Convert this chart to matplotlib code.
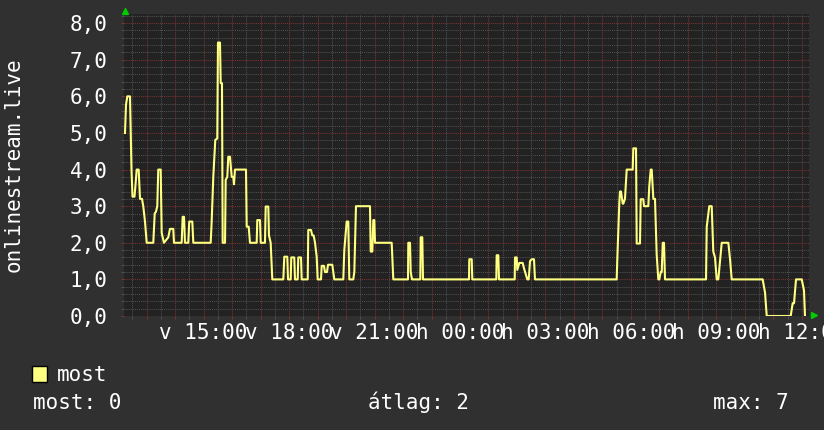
import matplotlib
matplotlib.use("Agg")
import matplotlib.pyplot as plt
from matplotlib.ticker import FixedLocator, MultipleLocator, FuncFormatter
from matplotlib.patches import Rectangle
from matplotlib.lines import Line2D

# ---- data: minutes since 12:00 on day 1, and value ----
minutes = [14.3, 16.4, 19.1, 24.8, 28.0, 30.1, 34.3, 36.4, 38.9, 43.1, 45.9, 50.1, 52.8, 56.4,
           60.0, 73.9, 76.9, 79.6, 82.3, 84.4, 89.5, 91.6, 96.4, 105.5, 109.1, 116.0, 117.5,
           133.7, 135.8, 138.6, 140.7, 147.6, 149.7, 156.1, 158.2, 194.8, 196.9, 200.3, 204.5,
           208.7, 210.2, 214.4, 215.9, 218.6, 220.1, 225.0, 226.4, 229.8, 231.9, 235.5, 239.1,
           242.4, 243.9, 246.0, 269.2, 270.7, 274.9, 277.6, 291.7, 293.0, 298.7, 300.2, 309.2,
           310.7, 316.2, 317.6, 321.2, 324.6, 347.8, 349.9, 356.2, 357.7, 363.4, 364.6, 370.9,
           372.4, 378.1, 379.4, 385.1, 386.5, 399.2, 400.4, 406.1, 408.9, 411.8, 414.6, 418.1,
           420.2, 427.2, 428.7, 433.5, 435.6, 439.8, 442.0, 451.0, 455.2, 474.2, 476.3, 481.3,
           484.7, 486.8, 495.2, 497.4, 500.9, 530.4, 531.9, 535.3, 537.4, 539.5, 541.0, 576.1,
           579.5, 610.5, 611.1, 614.7, 616.2, 618.9, 636.4, 637.2, 640.6, 642.1, 739.0, 739.6,
           744.7, 745.9, 796.5, 797.3, 800.7, 802.2, 835.3, 835.9, 839.5, 840.7, 845.0, 852.1,
           854.9, 861.8, 864.8, 867.5, 871.1, 875.9, 878.0, 1050.1, 1051.4, 1055.6, 1057.1,
           1059.2, 1062.8, 1064.1, 1067.6, 1071.2, 1083.9, 1085.1, 1090.8, 1092.3, 1099.2,
           1100.7, 1106.2, 1107.7, 1116.7, 1118.8, 1121.8, 1123.9, 1127.3, 1130.8, 1134.4,
           1137.8, 1139.9, 1142.9, 1145.0, 1147.1, 1149.8, 1151.9, 1238.3, 1239.8, 1245.2,
           1250.3, 1253.6, 1257.2, 1260.8, 1264.2, 1267.8, 1271.4, 1285.3, 1288.9, 1292.4,
           1357.7, 1362.6, 1366.2, 1416.7, 1420.9, 1423.7, 1427.9, 1439.9, 1444.7, 1446.8]
values = [5.0, 5.77, 6.0, 6.0, 4.0, 3.26, 3.26, 3.58, 4.0, 4.0, 3.2, 3.2, 3.0, 2.58,
          2.0, 2.0, 2.8, 2.85, 3.0, 4.0, 4.0, 2.27, 2.0, 2.15, 2.38, 2.38, 2.0,
          2.0, 2.71, 2.71, 2.0, 2.0, 2.58, 2.58, 2.0, 2.0, 2.58, 3.8, 4.81,
          4.85, 7.47, 7.47, 6.36, 6.36, 2.0, 2.0, 3.72, 3.8, 4.35, 4.35, 3.8,
          3.8, 3.6, 4.0, 4.0, 2.44, 2.44, 2.0, 2.0, 2.62, 2.62, 2.0, 2.0,
          2.99, 2.99, 2.2, 2.0, 1.0, 1.0, 1.62, 1.62, 1.0, 1.0, 1.6, 1.6,
          1.0, 1.0, 1.6, 1.6, 1.0, 1.0, 2.35, 2.35, 2.2, 2.2, 2.0, 1.62,
          1.0, 1.0, 1.37, 1.37, 1.2, 1.2, 1.4, 1.4, 1.0, 1.0, 1.8, 2.58,
          2.58, 1.0, 1.0, 1.2, 3.0, 3.0, 1.76, 1.76, 2.62, 2.62, 2.0, 2.0,
          1.0, 1.0, 2.0, 2.0, 1.2, 1.0, 1.0, 2.15, 2.15, 1.0, 1.0, 1.55,
          1.55, 1.0, 1.0, 1.66, 1.66, 1.0, 1.0, 1.6, 1.6, 1.26, 1.45, 1.45,
          1.3, 1.0, 1.0, 1.5, 1.55, 1.55, 1.0, 1.0, 1.55, 3.08, 3.4,
          3.4, 3.07, 3.07, 3.2, 4.0, 4.0, 4.58, 4.58, 1.98, 1.98,
          3.19, 3.19, 3.0, 3.0, 3.55, 4.0, 4.0, 3.2, 3.2, 1.67,
          1.0, 1.0, 1.2, 1.2, 2.0, 2.0, 1.0, 1.0, 2.44, 3.0,
          3.0, 1.76, 1.6, 1.0, 1.0, 1.5, 2.0, 2.0, 1.55, 1.0,
          1.0, 0.64, 0.0, 0.0, 0.35, 0.35, 1.0, 1.0, 0.7, 0.0]

x_ticks = [180, 360, 540, 720, 900, 1080, 1260, 1440]
x_labels = ["v 15:00", "v 18:00", "v 21:00", "h 00:00", "h 03:00", "h 06:00", "h 09:00", "h 12:00"]
y_ticks = [0, 1, 2, 3, 4, 5, 6, 7, 8]
x_range = (12.2, 1456.3)
y_range = (0, 8.25)

series_name = "most"
axis_title = "onlinestream.live"
stat_labels = ["most: 0", "átlag: 2", "max: 7"]

# ---- style ----
W, H = 824, 430
BG = "#303030"
PLOT_BG = "#222222"
MAJOR = "#7e3232"
MINOR = "#505050"
LINE = "#ffff80"
FONT = "DejaVu Sans Mono"
FS = 15

fig = plt.figure(figsize=(W / 100, H / 100), dpi=100, facecolor=BG)
L, R, T, B = 124, 809.5, 14, 316
ax = fig.add_axes([L / W, (H - B) / H, (R - L) / W, (B - T) / H])
ax.set_facecolor(PLOT_BG)

ax.set_xlim(*x_range)
ax.set_ylim(*y_range)

ax.xaxis.set_major_locator(MultipleLocator(60))
ax.xaxis.set_minor_locator(MultipleLocator(30))
ax.yaxis.set_major_locator(FixedLocator(y_ticks))
ax.yaxis.set_minor_locator(MultipleLocator(0.2))

label_map = dict(zip(x_ticks, x_labels))
ax.xaxis.set_major_formatter(FuncFormatter(lambda v, p: label_map.get(int(round(v)), "")))
ax.yaxis.set_major_formatter(FuncFormatter(lambda v, p: f"{v:.1f}".replace(".", ",")))

ax.grid(which="minor", color=MINOR, linestyle=(0, (1, 1)), linewidth=0.75)
ax.grid(which="major", color=MAJOR, linestyle=(0, (1, 1)), linewidth=0.75)
ax.set_axisbelow(True)

for s in ax.spines.values():
    s.set_visible(False)

ax.tick_params(axis="both", which="major", length=2.2, width=0.75, color=MAJOR,
               labelcolor="white", labelsize=FS, direction="out")
ax.tick_params(axis="both", which="minor", length=2.2, width=0.75, color=MINOR, direction="out")
ax.tick_params(axis="y", which="major", pad=9.5)
ax.tick_params(axis="x", which="major", pad=3.0)
for lab in ax.get_xticklabels() + ax.get_yticklabels():
    lab.set_fontfamily(FONT)

ax.plot(minutes, values, color=LINE, linewidth=1.5)

# axis title
fig.text(14 / W, 1 - 164.5 / H, axis_title, rotation=90, ha="center", va="center",
         fontsize=FS, family=FONT, color="white")

# arrows
fig.add_artist(Line2D([125 / W], [1 - 10.7 / H], marker="^", color="#00cc00",
                      markersize=5, linestyle="none", transform=fig.transFigure))
fig.add_artist(Line2D([813.5 / W], [1 - 314.5 / H], marker=">", color="#00cc00",
                      markersize=5, linestyle="none", transform=fig.transFigure))

# legend
fig.add_artist(Rectangle((32 / W, 1 - 381.5 / H), 15 / W, 15.5 / H, transform=fig.transFigure,
                         facecolor=LINE, edgecolor="black", linewidth=1))
fig.text(57 / W, 1 - 381 / H, series_name, ha="left", va="baseline",
         fontsize=FS, family=FONT, color="white")
fig.text(33 / W, 1 - 409.3 / H, stat_labels[0], ha="left", va="baseline",
         fontsize=FS, family=FONT, color="white")
fig.text(418 / W, 1 - 409.3 / H, stat_labels[1], ha="center", va="baseline",
         fontsize=FS, family=FONT, color="white")
fig.text(789 / W, 1 - 409.3 / H, stat_labels[2], ha="right", va="baseline",
         fontsize=FS, family=FONT, color="white")

fig.savefig("out.png", dpi=100, facecolor=BG)
